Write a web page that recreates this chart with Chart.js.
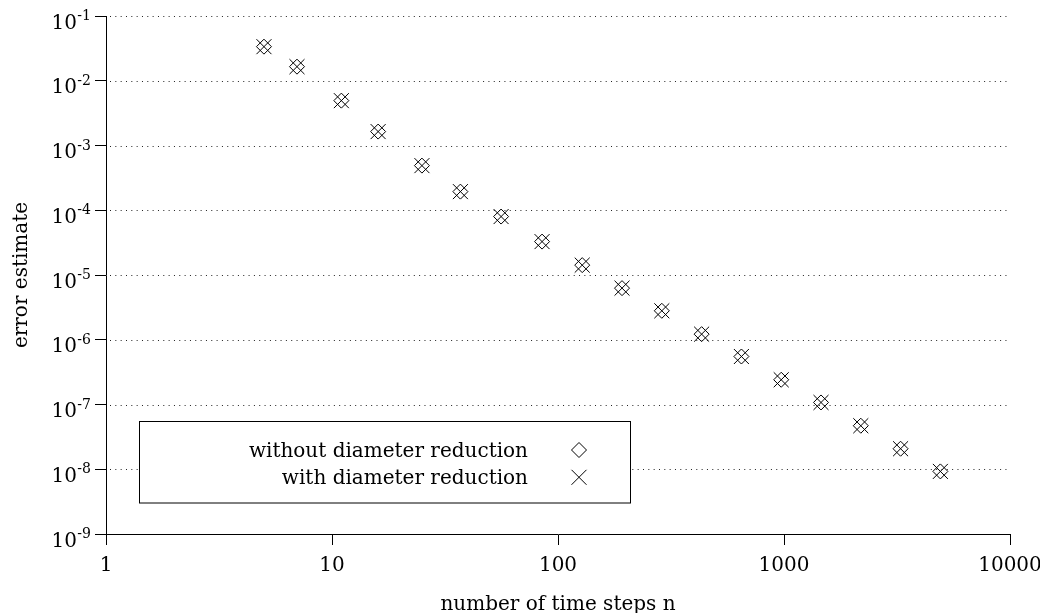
<!DOCTYPE html>
<html>
<head>
<meta charset="utf-8">
<script src="https://cdn.jsdelivr.net/npm/chart.js@4.4.1/dist/chart.umd.min.js"></script>
<style>
  html, body { margin: 0; padding: 0; background: #fff; }
  canvas { display: block; }
</style>
</head>
<body>
<canvas id="c" width="1040" height="613"></canvas>
<script>
// ---- data ----
const timeSteps = [5, 7, 11, 16, 25, 37, 56, 85, 128, 192, 288, 432, 648, 972, 1458, 2187, 3280, 4920];
const errWithout = [3.36e-2, 1.65e-2, 4.93e-3, 1.64e-3, 4.89e-4, 1.94e-4, 7.99e-5, 3.28e-5, 1.42e-5,
                    6.27e-6, 2.80e-6, 1.22e-6, 5.51e-7, 2.41e-7, 1.075e-7, 4.70e-8, 2.075e-8, 9.26e-9];
const errWith    = [3.36e-2, 1.65e-2, 4.93e-3, 1.64e-3, 4.89e-4, 1.94e-4, 7.99e-5, 3.28e-5, 1.42e-5,
                    6.27e-6, 2.80e-6, 1.22e-6, 5.51e-7, 2.41e-7, 1.075e-7, 4.70e-8, 2.075e-8, 9.26e-9];
const seriesLabels = ['without diameter reduction', 'with diameter reduction'];
const xTickValues = [1, 10, 100, 1000, 10000];
const xTickLabels = ['1', '10', '100', '1000', '10000'];
const yTickValues = [1e-1, 1e-2, 1e-3, 1e-4, 1e-5, 1e-6, 1e-7, 1e-8, 1e-9];
const yTickExponents = ['-1', '-2', '-3', '-4', '-5', '-6', '-7', '-8', '-9'];
const xTitle = 'number of time steps n';
const yTitle = 'error estimate';

const FONT = '"DejaVu Serif", "Liberation Serif", serif';
const INK = '#000';

const toPoints = (ys) => timeSteps.map((x, i) => ({ x: x, y: ys[i] }));

const textPlugin = {
  id: 'textPlugin',
  beforeDatasetsDraw(chart) {
    const { ctx, chartArea, scales } = chart;
    // dotted horizontal grid lines at the decades
    ctx.save();
    ctx.strokeStyle = '#222';
    ctx.lineWidth = 1;
    ctx.setLineDash([1, 4.33]);
    yTickValues.forEach((v) => {
      if (v === 1e-9) return;
      const py = Math.round(scales.y.getPixelForValue(v)) + 0.5;
      ctx.beginPath();
      ctx.moveTo(chartArea.left + 4, py);
      ctx.lineTo(chartArea.right, py);
      ctx.stroke();
    });
    ctx.restore();
  },
  afterDraw(chart) {
    const { ctx, chartArea, scales } = chart;
    ctx.save();
    ctx.fillStyle = INK;
    ctx.textBaseline = 'alphabetic';

    // y tick labels: 10 with superscript exponent, right edge at x = 91
    yTickValues.forEach((v, i) => {
      const py = scales.y.getPixelForValue(v);
      ctx.font = '14px ' + FONT;
      const ew = ctx.measureText(yTickExponents[i]).width;
      ctx.textAlign = 'right';
      ctx.fillText(yTickExponents[i], 91, py + 4.2);
      ctx.font = '20px ' + FONT;
      ctx.fillText('10', 91 - ew - 0.5, py + 12.7);
    });

    // x tick labels
    ctx.font = '20px ' + FONT;
    ctx.textAlign = 'center';
    xTickValues.forEach((v, i) => {
      const px = scales.x.getPixelForValue(v);
      ctx.fillText(xTickLabels[i], px, 571);
    });

    // axis titles
    ctx.fillText(xTitle, (chartArea.left + chartArea.right) / 2, 610);
    ctx.save();
    ctx.translate(27, (chartArea.top + chartArea.bottom) / 2);
    ctx.rotate(-Math.PI / 2);
    ctx.textAlign = 'center';
    ctx.fillText(yTitle, 0, 0);
    ctx.restore();

    // legend box
    const bx = 139.5, by = 421.5, bw = 491, bh = 81.5;
    ctx.fillStyle = '#fff';
    ctx.fillRect(bx, by, bw, bh);
    ctx.strokeStyle = INK;
    ctx.lineWidth = 1;
    ctx.setLineDash([]);
    ctx.strokeRect(bx, by, bw, bh);

    const rows = [456.7, 484];
    const marks = [450, 477.3];
    chart.data.datasets.forEach((ds, i) => {
      ctx.fillStyle = INK;
      ctx.font = '20px ' + FONT;
      ctx.textAlign = 'right';
      ctx.fillText(ds.label, 528, rows[i]);
      ctx.strokeStyle = INK;
      ctx.fillStyle = 'rgba(0,0,0,0)';
      ctx.lineWidth = 1;
      Chart.helpers.drawPoint(ctx, {
        pointStyle: ds.pointStyle,
        radius: ds.pointRadius,
        rotation: 0,
        borderWidth: 1
      }, 579, marks[i]);
    });
    ctx.restore();
  }
};

new Chart(document.getElementById('c'), {
  type: 'scatter',
  data: {
    datasets: [
      {
        label: seriesLabels[0],
        data: toPoints(errWithout),
        pointStyle: 'rectRot',
        pointRadius: 7.5,
        pointBorderWidth: 1,
        borderColor: INK,
        backgroundColor: 'rgba(0,0,0,0)',
        showLine: false
      },
      {
        label: seriesLabels[1],
        data: toPoints(errWith),
        pointStyle: 'crossRot',
        pointRadius: 10.6,
        pointBorderWidth: 1,
        borderColor: INK,
        backgroundColor: 'rgba(0,0,0,0)',
        showLine: false
      }
    ]
  },
  options: {
    responsive: false,
    devicePixelRatio: 1,
    animation: false,
    events: [],
    layout: { padding: { left: 0, right: 30, top: 16, bottom: 0 } },
    plugins: { legend: { display: false }, tooltip: { enabled: false } },
    scales: {
      x: {
        type: 'logarithmic',
        position: 'bottom',
        min: 1,
        max: 10000,
        afterBuildTicks: (s) => { s.ticks = xTickValues.map((v) => ({ value: v, major: true })); },
        afterFit: (s) => { s.height = 79; },
        ticks: { display: false },
        grid: { display: true, drawOnChartArea: false, drawTicks: true, tickLength: 11, tickColor: INK, tickWidth: 1 },
        border: { display: true, color: INK, width: 1 }
      },
      y: {
        type: 'logarithmic',
        position: 'left',
        min: 1e-9,
        max: 1e-1,
        afterBuildTicks: (s) => { s.ticks = yTickValues.map((v) => ({ value: v, major: true })); },
        afterFit: (s) => { s.width = 106; },
        ticks: { display: false },
        grid: { display: true, drawOnChartArea: false, drawTicks: true, tickLength: 11, tickColor: INK, tickWidth: 1 },
        border: { display: true, color: INK, width: 1 }
      }
    }
  },
  plugins: [textPlugin]
});
</script>
</body>
</html>
